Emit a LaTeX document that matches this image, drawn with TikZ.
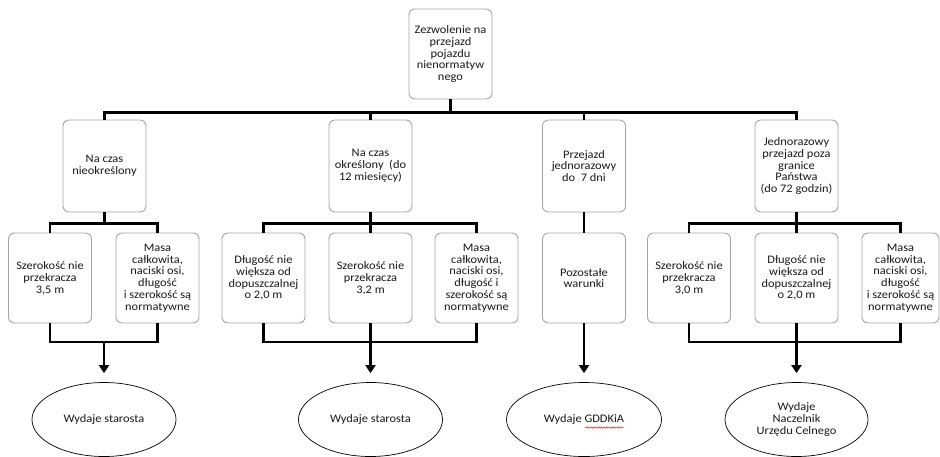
\documentclass[tikz,border=0pt]{standalone}
\usepackage{fontspec}
\setmainfont{Carlito}[FakeStretch=1.08]
\usetikzlibrary{arrows.meta,calc,decorations.pathmorphing,shapes.geometric}
\definecolor{boxgray}{RGB}{165,165,165}
\definecolor{txt}{RGB}{25,25,25}
\begin{document}
\begin{tikzpicture}[x=1pt,y=-1pt,
  every node/.style={font=\fontsize{11.5}{11.8}\selectfont, text=txt},
  box/.style={draw=boxgray, line width=0.9pt, rounded corners=6pt, minimum width=83pt,
    minimum height=90pt, align=center, inner sep=2pt},
  boxtwo/.style={box, minimum height=92pt},
  oval/.style={ellipse, draw=black, line width=0.7pt, minimum height=74pt, align=center, inner sep=0pt},
  conn/.style={line width=2.2pt, line join=miter, draw=black},
  arr/.style={conn, -{Triangle[length=8pt,width=10pt]}}]
\useasboundingbox (0,0) rectangle (940,456);
\fill[white] (0,0) rectangle (940,456);

% top
\node[box] (T) at (450.5,54) {Zezwolenie na\\przejazd\\pojazdu\\nienormatyw\\nego};

% level 2
\node[boxtwo] (A) at (104.5,166) {Na czas\\nieokreślony};
\node[boxtwo] (B) at (370.5,166) {Na czas\\określony~ (do\\12 miesięcy)};
\node[boxtwo] (C) at (584,166) {Przejazd\\jednorazowy\\do~ 7 dni};
\node[boxtwo] (D) at (796.5,166) {Jednorazowy\\przejazd poza\\granice\\Państwa\\(do 72 godzin)};

% level 3
\node[box] (A1) at (50,278) {Szerokość nie\\przekracza\\3,5 m};
\node[box] (A2) at (157.5,278) {Masa\\całkowita,\\naciski osi,\\długość\\i szerokość są\\normatywne};
\node[box] (B1) at (263.5,278) {Długość nie\\większa od\\dopuszczalnej\\o 2,0 m};
\node[box] (B2) at (370.5,278) {Szerokość nie\\przekracza\\3,2 m};
\node[box] (B3) at (476.5,278) {Masa\\całkowita,\\naciski osi,\\długość i\\szerokość są\\normatywne};
\node[box] (C1) at (584,278) {Pozostałe\\warunki};
\node[box] (D1) at (689,278) {Szerokość nie\\przekracza\\3,0 m};
\node[box] (D2) at (796.5,278) {Długość nie\\większa od\\dopuszczalnej\\o 2,0 m};
\node[box, minimum width=77pt] (D3) at (900.5,278) {Masa\\całkowita,\\naciski osi,\\długość\\i szerokość są\\normatywne};

% ellipses
\node[oval, minimum width=144pt] (E1) at (104,419.5) {Wydaje starosta};
\node[oval, minimum width=144pt] (E2) at (370.5,419.5) {Wydaje starosta};
\node[oval, minimum width=155pt] (E3) at (584,419.5) {Wydaje GDDKiA};
\node[oval, minimum width=143pt] (E4) at (796.5,419.5) {Wydaje\\Naczelnik\\Urzędu Celnego};
\draw[red, line width=0.45pt, decorate, decoration={snake, amplitude=0.7pt, segment length=2.6pt}]
  ($(E3.center)+(1,8)$) -- ++(39,0);

% top connectors
\coordinate (Tj) at ($(T.south)+(0,13)$);
\draw[conn] (T.south) -- (Tj);
\draw[conn] (A.north) |- (Tj) -| (D.north);
\draw[conn] (B.north) -- (B.north |- Tj);
\draw[conn] (C.north) -- (C.north |- Tj);

% level 2 -> level 3
\coordinate (Aj) at ($(A.south)+(0,11)$);
\draw[conn] (A.south) -- (Aj);
\draw[conn] (A1.north) |- (Aj) -| (A2.north);
\coordinate (Bj) at ($(B.south)+(0,11)$);
\draw[conn] (B.south) -- (Bj);
\draw[conn] (B1.north) |- (Bj) -| (B3.north);
\draw[conn] (B.south) -- (B2.north);
\draw[conn] (C.south) -- (C1.north);
\coordinate (Dj) at ($(D.south)+(0,11)$);
\draw[conn] (D.south) -- (Dj);
\draw[conn] (D1.north) |- (Dj) -| (D3.north);
\draw[conn] (D.south) -- (D2.north);

% bottom connectors
\coordinate (Ab) at (104,342);
\coordinate (Bb) at (370.5,342);
\coordinate (Db) at (796.5,342);
\coordinate (E1t) at ($(E1.north)+(0,-9)$);
\coordinate (E2t) at ($(E2.north)+(0,-9)$);
\coordinate (E3t) at ($(E3.north)+(0,-9)$);
\coordinate (E4t) at ($(E4.north)+(0,-9)$);
\draw[conn] (A1.south) |- (Ab) -| (A2.south);
\draw[arr] (Ab) -- (E1t);
\draw[conn] (B1.south) |- (Bb) -| (B3.south);
\draw[arr] (B2.south) -- (E2t);
\draw[arr] (C1.south) -- (E3t);
\draw[conn] (D1.south) |- (Db) -| (D3.south);
\draw[arr] (D2.south) -- (E4t);
\end{tikzpicture}
\end{document}
